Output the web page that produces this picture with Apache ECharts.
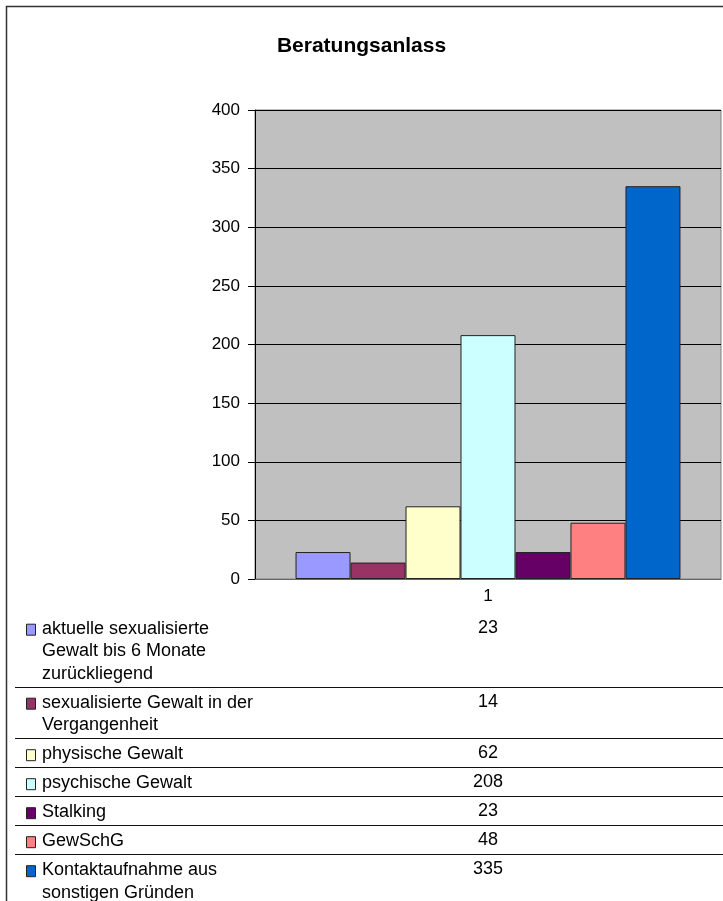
<!DOCTYPE html>
<html>
<head>
<meta charset="utf-8">
<script src="https://cdn.jsdelivr.net/npm/echarts@6/dist/echarts.min.js"></script>
<style>
html,body{margin:0;padding:0;background:#fff;}
#chart{width:723px;height:901px;}
</style>
</head>
<body>
<div id="chart"></div>
<script>
// ---- data ----
const titleText = 'Beratungsanlass';
const categories = ['1'];
const seriesLabels = [
  'aktuelle sexualisierte\nGewalt bis 6 Monate\nzurückliegend',
  'sexualisierte Gewalt in der\nVergangenheit',
  'physische Gewalt',
  'psychische Gewalt',
  'Stalking',
  'GewSchG',
  'Kontaktaufnahme aus\nsonstigen Gründen'
];
const seriesValues = [23, 14, 62, 208, 23, 48, 335];
const yMin = 0, yMax = 400, yStep = 50;

// ---- styles ----
const colors = ['#9999FF', '#993366', '#FFFFCC', '#CCFFFF', '#660066', '#FF8080', '#0066CC'];
const FONT = '"Liberation Sans", Arial, sans-serif';
const FS = 17;
const TFS = 18;

const chart = echarts.init(document.getElementById('chart'), null, {renderer: 'canvas'});

// data table below the plot
const graphics = [];
graphics.push({
  type: 'rect', silent: true, z: 0,
  shape: {x: 6.5, y: 6.5, width: 740, height: 920},
  style: {fill: null, stroke: '#333', lineWidth: 1.5}
});
const tableTop = 612.7;
const baseRow = 29, extraLine = 22.5;
const labelX = 42, keyX = 26, valueX = 488;
let rowTop = tableTop;
seriesLabels.forEach((lab, i) => {
  const lines = lab.split('\n');
  const firstBase = rowTop + 24;
  graphics.push({
    type: 'rect', silent: true, z: 10,
    shape: {x: keyX + 0.5, y: firstBase - 12.5, width: 9, height: 11},
    style: {fill: colors[i], stroke: '#222', lineWidth: 1}
  });
  lines.forEach((ln, k) => {
    graphics.push({
      type: 'text', silent: true, z: 10,
      x: labelX, y: firstBase + 1 + k * extraLine,
      style: {text: ln, font: TFS + 'px ' + FONT, fill: '#000', textAlign: 'left', textVerticalAlign: 'bottom'}
    });
  });
  graphics.push({
    type: 'text', silent: true, z: 10,
    x: valueX, y: firstBase,
    style: {text: String(seriesValues[i]), font: TFS + 'px ' + FONT, fill: '#000', textAlign: 'center', textVerticalAlign: 'bottom'}
  });
  rowTop += baseRow + extraLine * (lines.length - 1);
  if (i < seriesLabels.length - 1) {
    const yy = Math.round(rowTop) + 0.5;
    graphics.push({
      type: 'line', silent: true, z: 10,
      shape: {x1: 15, y1: yy, x2: 723, y2: yy},
      style: {stroke: '#111', lineWidth: 1}
    });
  }
});

const option = {
  animation: false,
  backgroundColor: '#fff',
  textStyle: {fontFamily: FONT},
  title: {
    text: titleText,
    left: 'center',
    top: 31,
    textStyle: {fontFamily: FONT, fontSize: 21, fontWeight: 'bold', color: '#000'}
  },
  grid: {
    left: 255, top: 110, right: 2, bottom: 322,
    show: true, backgroundColor: '#c0c0c0', borderColor: '#808080', borderWidth: 1,
    containLabel: false
  },
  xAxis: {
    type: 'category',
    data: categories,
    axisLine: {show: true, lineStyle: {color: '#666', width: 1}},
    axisTick: {show: false},
    axisLabel: {fontFamily: FONT, fontSize: FS, color: '#000', margin: 9}
  },
  yAxis: {
    type: 'value',
    min: yMin, max: yMax, interval: yStep,
    axisLine: {show: true, lineStyle: {color: '#000', width: 1}},
    axisTick: {show: true, length: 7, inside: false, lineStyle: {color: '#000'}},
    axisLabel: {fontFamily: FONT, fontSize: FS, color: '#000', margin: 15},
    splitLine: {show: true, lineStyle: {color: '#000', width: 1}}
  },
  series: seriesLabels.map((lab, i) => ({
    name: lab.replace(/\n/g, ' '),
    type: 'bar',
    data: [seriesValues[i]],
    barGap: '0%',
    barCategoryGap: '17.4%',
    itemStyle: {color: colors[i], borderColor: '#222', borderWidth: 1}
  })),
  graphic: graphics
};
chart.setOption(option);
</script>
</body>
</html>
